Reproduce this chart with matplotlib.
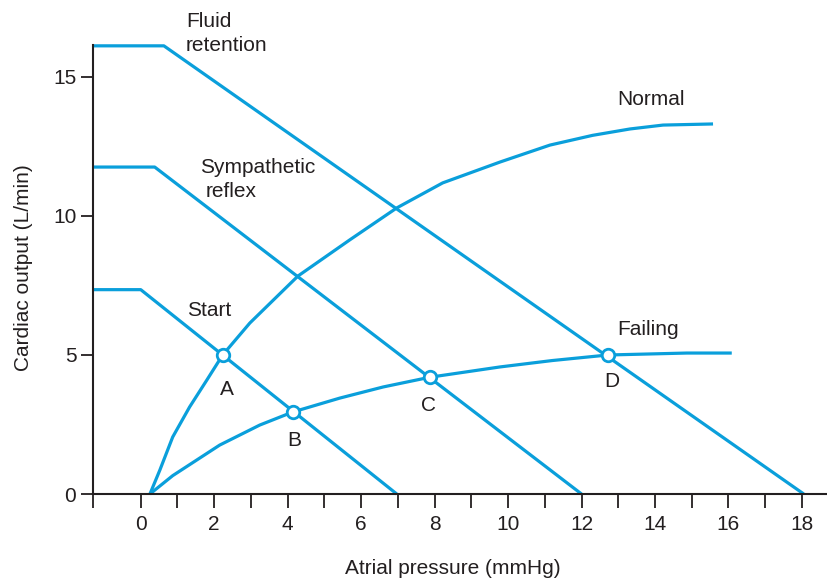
import matplotlib
matplotlib.use("Agg")
import matplotlib.pyplot as plt

plt.rcParams['font.family'] = ['Liberation Sans', 'DejaVu Sans']

BLUE = '#0A9FDB'
TXT = '#231F20'

# Cardiac output curves (atrial pressure mmHg, cardiac output L/min)
normal_x = [0.25, 0.52, 0.87, 1.33, 1.80, 2.23, 2.97, 4.28, 5.69, 6.97, 8.22, 9.78, 11.14, 12.3, 13.32, 14.22, 15.58]
normal_y = [0.0, 0.86, 2.05, 3.13, 4.10, 5.0, 6.15, 7.84, 9.14, 10.29, 11.19, 11.94, 12.55, 12.9, 13.13, 13.27, 13.31]

failing_x = [0.25, 0.87, 2.15, 3.24, 4.14, 5.42, 6.6, 7.87, 9.78, 11.2, 12.72, 14.87, 16.09]
failing_y = [0.0, 0.66, 1.76, 2.48, 2.95, 3.45, 3.85, 4.2, 4.57, 4.8, 5.0, 5.07, 5.07]

# Venous return curves
start_x = [-1.3, 0.0, 6.97]
start_y = [7.35, 7.35, 0.0]

symp_x = [-1.3, 0.38, 12.0]
symp_y = [11.76, 11.76, 0.0]

fluid_x = [-1.3, 0.63, 18.05]
fluid_y = [16.12, 16.12, 0.0]

# Equilibrium points
pt_labels = ['A', 'B', 'C', 'D']
pt_x = [2.23, 4.14, 7.87, 12.72]
pt_y = [5.0, 2.95, 4.2, 5.0]

x_major = [0, 2, 4, 6, 8, 10, 12, 14, 16, 18]
y_major = [0, 5, 10, 15]

fig = plt.figure(figsize=(8.28, 5.8), dpi=100)
ax = fig.add_axes([93/828, 86/580, 735/828, (494-45)/580])

lw = 2.3
for xs, ys in [(normal_x, normal_y), (failing_x, failing_y), (start_x, start_y),
               (symp_x, symp_y), (fluid_x, fluid_y)]:
    ax.plot(xs, ys, color=BLUE, lw=lw, solid_capstyle='butt', solid_joinstyle='round', clip_on=False)

ax.plot(pt_x, pt_y, 'o', ms=9, mfc='white', mec=BLUE, mew=2.0, zorder=5, clip_on=False)

ax.set_xlim(-1.3, 18.71)
ax.set_ylim(0, 16.15)

for s in ['top', 'right']:
    ax.spines[s].set_visible(False)
for s in ['left', 'bottom']:
    ax.spines[s].set_linewidth(1.5)
    ax.spines[s].set_color(TXT)

fs = 15
xt = [-1.3] + list(range(0, 19))
ax.set_xticks(xt)
ax.set_xticklabels([str(v) if v in x_major else '' for v in xt])
ax.set_yticks(y_major)
ax.set_yticklabels([str(v) for v in y_major])
ax.tick_params(axis='x', direction='out', length=10, width=1.3, pad=5, labelsize=fs, colors=TXT)
ax.tick_params(axis='y', direction='out', length=9, width=1.3, pad=3, labelsize=fs, colors=TXT)

ax.set_xlabel('Atrial pressure (mmHg)', fontsize=fs, color=TXT, va='center')
ax.xaxis.set_label_coords((453-93)/735, -(568-494)/449)
ax.set_ylabel('Cardiac output (L/min)', fontsize=fs, color=TXT, va='center')
ax.yaxis.set_label_coords(-(93-24)/735, (494-268)/449)

def px(x, y):
    return ((x - 141) / 36.72, (494 - y) / 27.8)

ax.text(*px(186, 22), 'Fluid', fontsize=fs, color=TXT, ha='left', va='center')
ax.text(*px(186, 46), 'retention', fontsize=fs, color=TXT, ha='left', va='center')
ax.text(*px(200, 168), 'Sympathetic', fontsize=fs, color=TXT, ha='left', va='center')
ax.text(*px(206, 192), 'reflex', fontsize=fs, color=TXT, ha='left', va='center')
ax.text(*px(187, 311), 'Start', fontsize=fs, color=TXT, ha='left', va='center')
ax.text(*px(617, 100), 'Normal', fontsize=fs, color=TXT, ha='left', va='center')
ax.text(*px(617, 330), 'Failing', fontsize=fs, color=TXT, ha='left', va='center')

lab_pos = [(227, 390), (294, 441), (429, 406), (612, 382)]
for lab, (lx, ly) in zip(pt_labels, lab_pos):
    ax.text(*px(lx, ly), lab, fontsize=fs, color=TXT, ha='center', va='center')

fig.savefig('out.png', dpi=100)
